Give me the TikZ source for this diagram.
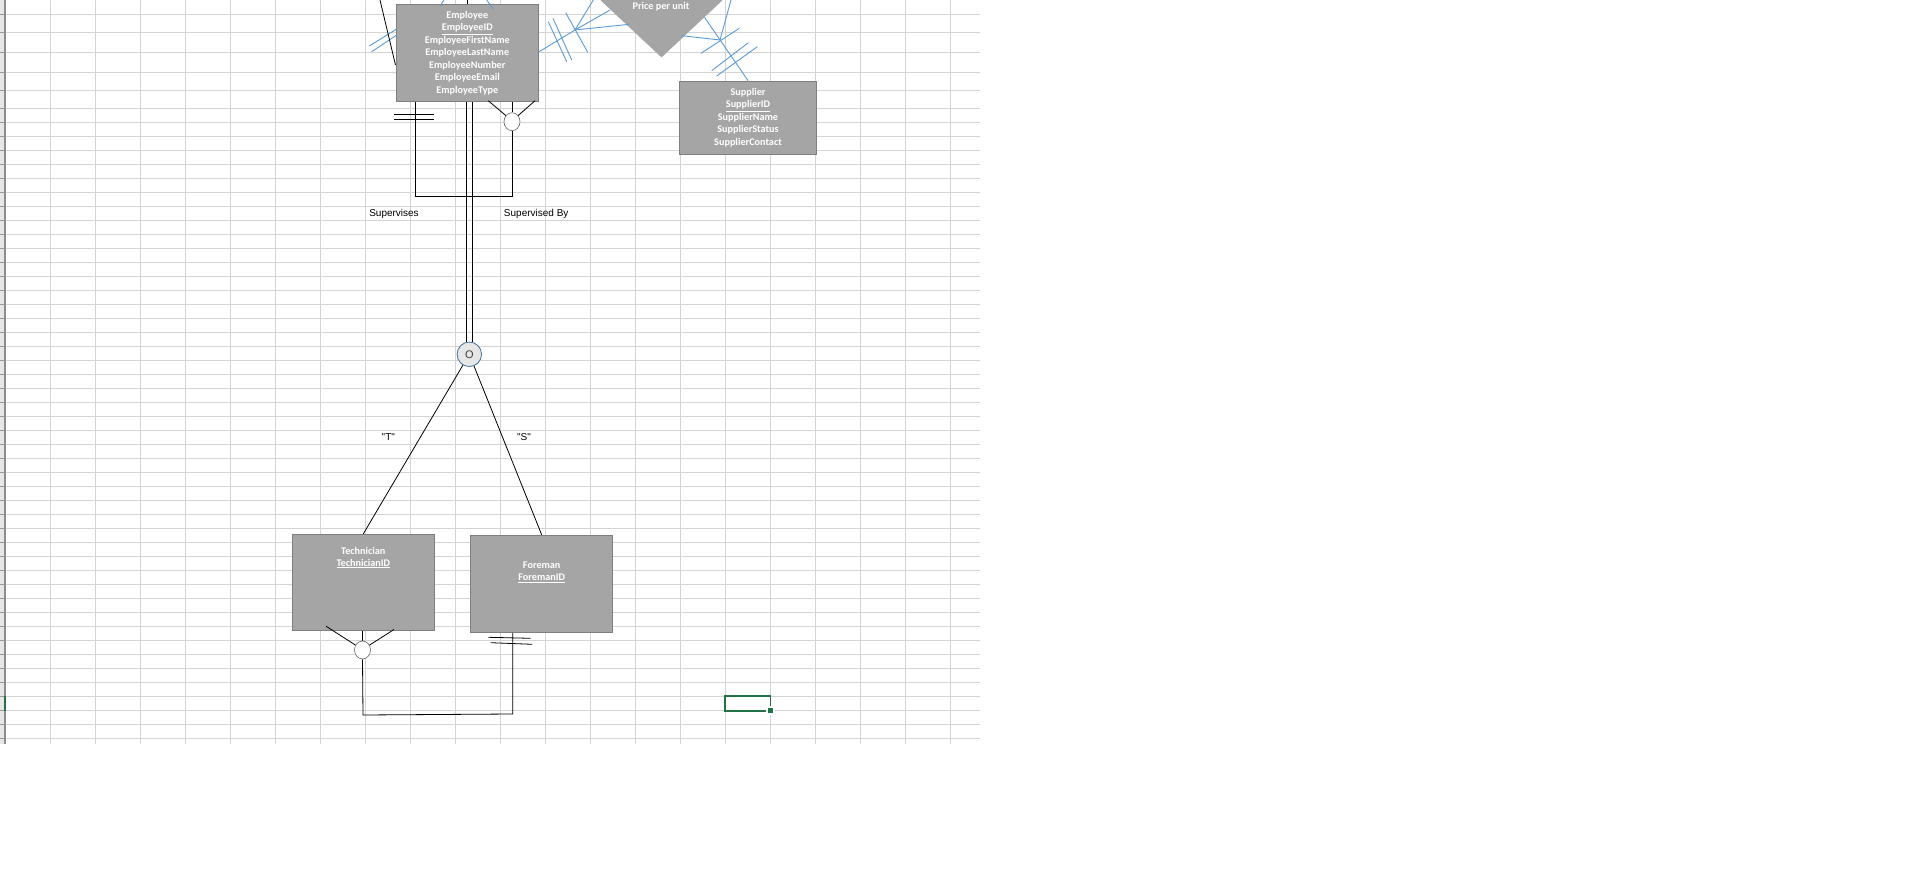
\documentclass[tikz,border=0pt]{standalone}
\usepackage{fontspec}
\usepackage{xcolor}
\usepackage{tikz}
\usetikzlibrary{shapes,positioning,calc}
\newfontfamily\boxfont{Carlito}
\newfontfamily\cellfont{Liberation Sans}
\definecolor{gridgray}{HTML}{D4D4D4}
\definecolor{headgray}{HTML}{E6E6E6}
\definecolor{entityfill}{HTML}{A5A5A5}
\definecolor{entityline}{HTML}{7F7F7F}
\definecolor{linkblue}{HTML}{5B9BD5}
\definecolor{selgreen}{HTML}{217346}
\definecolor{circfill}{HTML}{E7E6E6}
\definecolor{circline}{HTML}{41719C}

\tikzset{
  entity/.style={draw=entityline, fill=entityfill, line width=0.9pt, inner sep=0pt, align=center, text=white, font=\boxfont\bfseries\fontsize{10.2}{12.5}\selectfont},
  entitytext/.style={inner sep=0pt, align=center, text=white, font=\boxfont\bfseries\fontsize{10.2}{12}\selectfont},
  conn/.style={black, line width=0.8pt},
  bluelink/.style={linkblue, line width=0.9pt},
  optcirc/.style={draw=black!60, fill=white, ellipse, minimum width=16pt, minimum height=18pt, inner sep=0pt, line width=0.6pt},
  celltext/.style={font=\cellfont\fontsize{10}{12}\selectfont, inner sep=0pt},
}

\begin{document}
\begin{tikzpicture}[x=1pt, y=-1pt]
\useasboundingbox (0,0) rectangle (1914,874);
\clip (0,0) rectangle (1914,874);

% Spreadsheet grid
\fill[white] (0,0) rectangle (1914,874);
\foreach \c in {50,95,...,950}
  \draw[gridgray, line width=0.9pt] (\c,0) -- (\c,744);
\foreach \r in {14,32,52,72,90,108,122,136,150}
  \draw[gridgray, line width=0.9pt] (5,\r) -- (980,\r);
\foreach \r in {164,178,...,738}
  \draw[gridgray, line width=0.9pt] (5,\r) -- (980,\r);

% Row header strip
\fill[headgray] (0,0) rectangle (5,744);
\foreach \r in {14,32,52,72,90,108,122,136,150}
  \draw[black!40] (0,\r) -- (5,\r);
\foreach \r in {164,178,...,738}
  \draw[black!40] (0,\r) -- (5,\r);
\draw[black!45, line width=1.2pt] (5,0) -- (5,744);
\fill[selgreen] (3.5,696) rectangle (5.6,711);

% Selected cell
\draw[selgreen, line width=1.6pt] (725,696) rectangle (770.5,711);
\fill[white] (766,706) rectangle (775,715);
\fill[selgreen] (767.7,707.7) rectangle (773,713);

% Relationship diamond
\node[diamond, fill=entityfill, minimum width=144pt, minimum height=135pt, inner sep=0pt] (pricerel) at (661.5,-10) {};
\node[entitytext] (pricelabel) at (661,6.7) {Price per unit};

% Entities
\node[entity, minimum width=142.7pt, minimum height=96.6pt] (employee) at (467.3,53)
  {Employee\\\underline{EmployeeID}\\EmployeeFirstName\\EmployeeLastName\\EmployeeNumber\\EmployeeEmail\\EmployeeType};
\node[entity, minimum width=137.4pt, minimum height=73.3pt] (supplier) at (748,117.7)
  {Supplier\\\underline{SupplierID}\\SupplierName\\SupplierStatus\\SupplierContact};
\node[entity, minimum width=142pt, minimum height=95.7pt] (technician) at (363.3,582.2) {};
\node[entitytext] (techlabel) at (363.3,557.5) {Technician\\\underline{TechnicianID}};
\node[entity, minimum width=142pt, minimum height=97pt] (foreman) at (541.7,583.8) {};
\node[entitytext] (forelabel) at (541.7,572.2) {Foreman\\\underline{ForemanID}};

% Blue links off the top
\coordinate (emphub) at (575,30);
\coordinate (suphub) at (720,40);
\draw[bluelink] (employee.east |- 0,51.7) -- (emphub);
\draw[bluelink] (emphub) -- (593.3,0);
\draw[bluelink] (emphub) -- (610,10);
\draw[bluelink] (emphub) -- (629.3,24.3);
\draw[bluelink] (704.5,17.3) -- (supplier.north);
\draw[bluelink] (681.7,35.7) -- (suphub);
\draw[bluelink] (731,0) -- (suphub);
\foreach \xa/\ya/\xb/\yb in {565.7/12.7/587.7/52.3, 548.3/21.7/566.7/61.7, 553/18.3/571.7/60,
    701/53.3/739.3/28.3, 711.7/70.7/748.3/42.7, 716.7/76/757.3/46.7,
    369.3/46/396.7/29, 371.7/51.7/396.7/35, 440/6/444/0, 493.3/9/486.7/0}
  \draw[bluelink] (\xa,\ya) -- (\xb,\yb);

% Black lines at the top
\coordinate (diagtop) at (380,0);
\draw[conn] (diagtop) -- (employee.west |- 0,65);
\draw[conn] (employee.north) -- ++(0,-6);

% Supervises recursive link
\node[optcirc] (supcirc) at (512,121.7) {};
\coordinate (supleft) at (415.7,196.3);
\coordinate (supright) at (512,196.3);
\draw[conn] (employee.south -| supleft) -- (supleft) -- (supright) -- (supcirc.south);
\draw[conn] (supcirc.north) -- (supcirc.north |- employee.south);
\draw[conn] (supcirc.135) -- ($(employee.south)+(21,-1)$);
\draw[conn] (supcirc.45) -- ($(employee.south)+(67.7,-1)$);
\foreach \yy in {114.3,119.3}
  \draw[conn] (394.3,\yy) -- (434,\yy);
\node[celltext] (supervises) at (394,213.5) {Supervises};
\node[celltext] (supervisedby) at (536.2,213.5) {Supervised By};

% Subtype disjoint circle
\node[circle, draw=circline, fill=circfill, line width=0.8pt, minimum size=24.5pt, inner sep=0pt,
  text=black!75, font=\cellfont\fontsize{11}{12}\selectfont] (disjoint) at (469.3,354.3) {O};
\draw[conn] ([xshift=-3.3pt]disjoint.north) -- ([xshift=-3.3pt]disjoint.north |- employee.south);
\draw[conn] ([xshift=3.3pt]disjoint.north) -- ([xshift=3.3pt]disjoint.north |- employee.south);
\draw[conn] (disjoint) -- (technician.north);
\draw[conn] (disjoint) -- (foreman.north);
\node[celltext] (techtag) at (388.3,437) {"T"};
\node[celltext] (foretag) at (524,437) {"S"};

% Technician to Foreman link
\node[optcirc] (techcirc) at (362.5,650) {};
\coordinate (techbend) at (363,715);
\coordinate (forebend) at (512.7,714);
\draw[conn] (techcirc.south) -- (techbend) -- (forebend) -- (foreman.south -| forebend);
\draw[conn] (techcirc.north) -- (techcirc.north |- technician.south);
\draw[conn] (techcirc.145) -- ($(technician.south)+(-37.3,-4.3)$);
\draw[conn] (techcirc.35) -- ($(technician.south)+(30.7,-1)$);
\draw[conn] (488.3,637.3) -- (530.7,638.3);
\draw[conn] (490.7,642.7) -- (532.3,644.3);
\end{tikzpicture}
\end{document}
